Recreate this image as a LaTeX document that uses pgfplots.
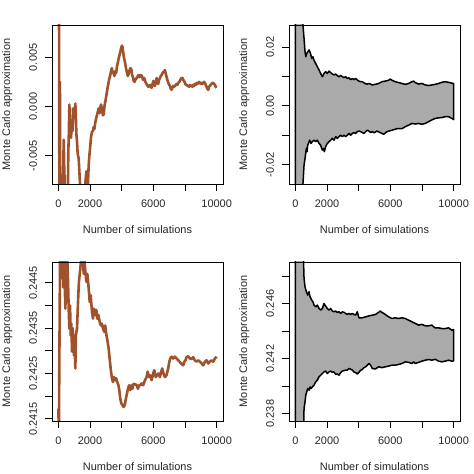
\documentclass[border=0pt]{standalone}
\usepackage{fontspec}
\setmainfont{Liberation Sans}
\usepackage{pgfplots}
\pgfplotsset{compat=1.18}
\definecolor{mcbrown}{RGB}{160,82,45}
\definecolor{mcgray}{RGB}{170,170,170}
\pgfplotsset{
  mcstyle/.style={
    scale only axis, width=171bp, height=159bp,
    xmin=-400, xmax=10400,
    xtick={0,2000,4000,6000,8000,10000},
    xticklabels={0,2000,{},6000,{},10000},
    scaled ticks=false,
    tick align=outside, tick pos=left,
    major tick length=7bp,
    every tick/.style={black, line width=0.8bp},
    axis line style={line width=0.8bp, black},
    axis on top,
    tick label style={font=\fontsize{11}{13}\selectfont, text=black!85},
    xticklabel style={anchor=north},
    yticklabel style={rotate=90, anchor=south},
    xticklabel shift=5bp,
    yticklabel shift=4.5bp,
    xlabel={Number of simulations},
    ylabel={Monte Carlo approximation},
    label style={font=\fontsize{11}{13}\selectfont, text=black!85},
    xlabel style={at={(axis description cs:0.5,-0.2893)}, anchor=center},
    ylabel style={at={(axis description cs:-0.2614,0.5)}, anchor=center},
  },
  mcline/.style={mcbrown, line width=2.6bp, line join=round},
  mcband/.style={fill=mcgray, draw=black, line width=1.5bp, line join=round},
}
\begin{document}
\begin{tikzpicture}
\useasboundingbox (0,0) rectangle (474bp,474bp);
% Panel 1
\begin{axis}[mcstyle, at={(52bp,290bp)}, anchor=south west,
  ymin=-0.0079, ymax=0.0083,
  ytick={-0.005,0,0.005}, yticklabels={-0.005,0.000,0.005}]
\addplot[mcline] coordinates {
(1,0.0500)(40,0.0120)(70,-0.0120)(100,0.0025)(125,-0.0110)(170,-0.0090)(220,-0.0070)(260,-0.0085)(300,-0.0075)(340,-0.0034)(370,-0.0060)(420,-0.0090)(450,-0.0110)(520,-0.0100)(600,-0.0090)(630,-0.0046)(660,-0.0030)(697,0.0002)(720,-0.0010)(760,-0.0019)(800,-0.0032)(830,-0.0024)(860,-0.0016)(900,-0.0025)(930,-0.0002)(980,-0.0012)(1030,-0.0008)(1075,0.0003)(1110,-0.0012)(1140,-0.0028)(1180,-0.0036)(1220,-0.0048)(1285,-0.0053)(1340,-0.0070)(1390,-0.0085)(1450,-0.0100)(1550,-0.0110)(1650,-0.0095)(1720,-0.0075)(1769,-0.0066)(1800,-0.0085)(1850,-0.0095)(1880,-0.0075)(1916,-0.0060)(1950,-0.0052)(1990,-0.0045)(2020,-0.0040)(2060,-0.0032)(2100,-0.0028)(2127,-0.0026)(2180,-0.0025)(2230,-0.0021)(2280,-0.0023)(2337,-0.0016)(2390,-0.0012)(2440,-0.0009)(2500,-0.0005)(2547,-0.0002)(2600,-0.0007)(2650,-0.0001)(2700,0.0002)(2760,-0.0004)(2820,-0.0009)(2863,-0.0008)(2920,0.0001)(2970,0.0005)(3020,0.0010)(3073,0.0015)(3120,0.0020)(3180,0.0025)(3230,0.0029)(3283,0.0032)(3330,0.0036)(3380,0.0039)(3430,0.0035)(3490,0.0034)(3540,0.0031)(3600,0.0036)(3650,0.0034)(3704,0.0041)(3760,0.0045)(3810,0.0049)(3870,0.0053)(3920,0.0056)(3970,0.0060)(4019,0.0062)(4060,0.0060)(4100,0.0055)(4140,0.0050)(4200,0.0046)(4272,0.0039)(4330,0.0035)(4390,0.0031)(4440,0.0033)(4500,0.0037)(4550,0.0039)(4608,0.0038)(4660,0.0032)(4710,0.0030)(4760,0.0026)(4820,0.0025)(4880,0.0028)(4966,0.0029)(5020,0.0031)(5070,0.0032)(5130,0.0030)(5200,0.0032)(5281,0.0031)(5330,0.0028)(5366,0.0027)(5420,0.0029)(5480,0.0026)(5530,0.0024)(5600,0.0022)(5640,0.0021)(5681,0.0020)(5740,0.0021)(5790,0.0022)(5840,0.0020)(5892,0.0019)(5950,0.0023)(6000,0.0026)(6050,0.0022)(6100,0.0021)(6150,0.0025)(6207,0.0029)(6260,0.0024)(6310,0.0023)(6360,0.0027)(6420,0.0029)(6470,0.0031)(6522,0.0032)(6580,0.0034)(6640,0.0035)(6690,0.0036)(6733,0.0037)(6790,0.0033)(6840,0.0030)(6900,0.0026)(6950,0.0024)(7000,0.0022)(7048,0.0021)(7100,0.0018)(7153,0.0017)(7200,0.0019)(7260,0.0021)(7310,0.0020)(7370,0.0021)(7420,0.0022)(7470,0.0023)(7520,0.0022)(7574,0.0024)(7630,0.0025)(7680,0.0026)(7730,0.0028)(7784,0.0029)(7840,0.0029)(7890,0.0027)(7940,0.0026)(8000,0.0024)(8050,0.0022)(8100,0.0022)(8150,0.0021)(8205,0.0021)(8260,0.0020)(8310,0.0022)(8360,0.0021)(8420,0.0021)(8470,0.0020)(8520,0.0022)(8580,0.0021)(8630,0.0023)(8680,0.0022)(8730,0.0024)(8790,0.0023)(8840,0.0024)(8890,0.0025)(8941,0.0024)(9000,0.0023)(9050,0.0024)(9100,0.0023)(9150,0.0024)(9200,0.0025)(9260,0.0024)(9310,0.0022)(9360,0.0020)(9410,0.0018)(9467,0.0017)(9520,0.0020)(9570,0.0021)(9620,0.0022)(9680,0.0023)(9730,0.0024)(9782,0.0024)(9840,0.0023)(9890,0.0022)(9940,0.0020)(10000,0.0019)
};
\end{axis}
% Panel 2
\begin{axis}[mcstyle, at={(289bp,290bp)}, anchor=south west,
  ymin=-0.0266, ymax=0.0275,
  ytick={-0.02,-0.01,0,0.01,0.02}, yticklabels={-0.02,{},0.00,{},0.02}]
\addplot[mcband] coordinates {
(1,0.60)(50,0.15)(100,0.09)(200,0.06)(300,0.045)(444,0.030)(550,0.0229)(612,0.0184)(660,0.0167)(720,0.0178)(865,0.0190)(950,0.0180)(1033,0.0161)(1110,0.0167)(1180,0.0155)(1285,0.0144)(1390,0.0133)(1496,0.0122)(1600,0.0110)(1706,0.0099)(1811,0.0110)(1916,0.0116)(2020,0.0110)(2127,0.0118)(2230,0.0113)(2337,0.0108)(2442,0.0105)(2547,0.0108)(2650,0.0103)(2757,0.0099)(2860,0.0103)(2970,0.0099)(3070,0.0096)(3178,0.0099)(3280,0.0093)(3388,0.0095)(3494,0.0089)(3600,0.0093)(3700,0.0089)(3809,0.0093)(3914,0.0088)(4019,0.0084)(4125,0.0082)(4230,0.0082)(4335,0.0078)(4440,0.0075)(4545,0.0074)(4650,0.0076)(4750,0.0074)(4840,0.0071)(5050,0.0073)(5261,0.0076)(5471,0.0082)(5681,0.0084)(5892,0.0087)(5997,0.0091)(6102,0.0087)(6312,0.0082)(6522,0.0079)(6733,0.0076)(6943,0.0073)(7153,0.0076)(7364,0.0082)(7469,0.0084)(7574,0.0079)(7784,0.0074)(7995,0.0076)(8205,0.0071)(8415,0.0069)(8626,0.0071)(8836,0.0073)(9046,0.0076)(9256,0.0080)(9467,0.0082)(9677,0.0080)(9887,0.0077)(10000,0.0076)
(10000,-0.0047)(9887,-0.0043)(9677,-0.0037)(9467,-0.0037)(9256,-0.0040)(9046,-0.0041)(8836,-0.0043)(8626,-0.0048)(8415,-0.0054)(8205,-0.0060)(7995,-0.0063)(7784,-0.0060)(7574,-0.0062)(7364,-0.0060)(7153,-0.0066)(6943,-0.0071)(6733,-0.0078)(6417,-0.0078)(6102,-0.0083)(5786,-0.0088)(5576,-0.0097)(5471,-0.0094)(5155,-0.0086)(4970,-0.0092)(4860,-0.0088)(4750,-0.0091)(4650,-0.0086)(4545,-0.0083)(4440,-0.0088)(4335,-0.0094)(4230,-0.0091)(4125,-0.0088)(4019,-0.0086)(3914,-0.0088)(3809,-0.0094)(3700,-0.0091)(3600,-0.0094)(3494,-0.0100)(3388,-0.0094)(3283,-0.0100)(3178,-0.0105)(3073,-0.0100)(2970,-0.0105)(2863,-0.0100)(2757,-0.0105)(2650,-0.0111)(2547,-0.0105)(2442,-0.0117)(2337,-0.0111)(2230,-0.0117)(2127,-0.0122)(2020,-0.0128)(1916,-0.0139)(1832,-0.0156)(1770,-0.0145)(1706,-0.0151)(1600,-0.0134)(1496,-0.0128)(1390,-0.0117)(1285,-0.0122)(1180,-0.0117)(1075,-0.0122)(990,-0.0128)(907,-0.0117)(781,-0.0134)(740,-0.0156)(697,-0.0145)(612,-0.0179)(550,-0.0202)(444,-0.030)(300,-0.045)(200,-0.06)(100,-0.09)(50,-0.15)(1,-0.60)
} -- cycle;
\end{axis}
% Panel 3
\begin{axis}[mcstyle, at={(52bp,53bp)}, anchor=south west,
  ymin=0.24145, ymax=0.24496,
  ytick={0.2415,0.2420,0.2425,0.2430,0.2435,0.2440,0.2445},
  yticklabels={0.2415,{},0.2425,{},0.2435,{},0.2445}]
\addplot[mcline] coordinates {
(1,0.24172)(35,0.24120)(110,0.24520)(150,0.24470)(190,0.24520)(230,0.24460)(270,0.24500)(310,0.24440)(350,0.24520)(400,0.24452)(444,0.24393)(480,0.24450)(520,0.24520)(560,0.24510)(600,0.24470)(654,0.24393)(697,0.24349)(740,0.24400)(780,0.24334)(820,0.24360)(865,0.24298)(900,0.24350)(950,0.24320)(990,0.24290)(1030,0.24310)(1075,0.24261)(1110,0.24335)(1180,0.24349)(1243,0.24408)(1300,0.24452)(1390,0.24482)(1450,0.24510)(1538,0.24520)(1600,0.24470)(1650,0.24500)(1706,0.24475)(1770,0.24452)(1830,0.24470)(1916,0.24438)(1980,0.24408)(2040,0.24423)(2127,0.24386)(2190,0.24371)(2250,0.24393)(2337,0.24379)(2400,0.24390)(2460,0.24371)(2530,0.24379)(2610,0.24364)(2680,0.24356)(2750,0.24360)(2820,0.24349)(2900,0.24342)(2960,0.24356)(3020,0.24338)(3094,0.24324)(3178,0.24305)(3240,0.24283)(3304,0.24261)(3388,0.24239)(3450,0.24231)(3520,0.24242)(3599,0.24235)(3660,0.24239)(3720,0.24231)(3790,0.24225)(3851,0.24213)(3910,0.24195)(3977,0.24184)(4050,0.24180)(4125,0.24176)(4190,0.24180)(4272,0.24195)(4330,0.24205)(4398,0.24216)(4470,0.24224)(4540,0.24213)(4608,0.24224)(4680,0.24216)(4750,0.24227)(4861,0.24226)(4950,0.24224)(5030,0.24216)(5100,0.24224)(5176,0.24224)(5261,0.24228)(5360,0.24224)(5470,0.24235)(5576,0.24242)(5640,0.24254)(5720,0.24242)(5800,0.24246)(5892,0.24235)(5990,0.24250)(6060,0.24257)(6150,0.24242)(6230,0.24246)(6320,0.24250)(6417,0.24242)(6500,0.24254)(6560,0.24261)(6640,0.24250)(6733,0.24242)(6830,0.24246)(6940,0.24261)(7010,0.24276)(7069,0.24283)(7150,0.24287)(7260,0.24283)(7360,0.24287)(7470,0.24283)(7574,0.24279)(7680,0.24275)(7780,0.24271)(7889,0.24268)(7960,0.24276)(8030,0.24279)(8100,0.24286)(8200,0.24288)(8310,0.24283)(8420,0.24282)(8520,0.24286)(8620,0.24279)(8731,0.24276)(8840,0.24279)(8940,0.24276)(9050,0.24272)(9151,0.24268)(9260,0.24276)(9360,0.24279)(9470,0.24272)(9570,0.24276)(9680,0.24279)(9780,0.24276)(9890,0.24283)(10000,0.24287)
};
\end{axis}
% Panel 4
\begin{axis}[mcstyle, at={(289bp,53bp)}, anchor=south west,
  ymin=0.23747, ymax=0.24902,
  ytick={0.238,0.240,0.242,0.244,0.246,0.248},
  yticklabels={0.238,{},0.242,{},0.246,{}}]
\addplot[mcband] coordinates {
(1,0.80)(50,0.30)(100,0.28)(200,0.265)(300,0.258)(444,0.2520)(550,0.24782)(612,0.24721)(697,0.24685)(781,0.24661)(865,0.24685)(928,0.24649)(1033,0.24625)(1110,0.24612)(1180,0.24588)(1285,0.24576)(1390,0.24588)(1496,0.24564)(1600,0.24552)(1706,0.24564)(1811,0.24600)(1870,0.24588)(1950,0.24576)(2020,0.24564)(2127,0.24552)(2230,0.24564)(2337,0.24545)(2440,0.24540)(2547,0.24545)(2650,0.24535)(2757,0.24540)(2863,0.24528)(2970,0.24540)(3073,0.24535)(3178,0.24528)(3283,0.24520)(3388,0.24528)(3494,0.24520)(3600,0.24528)(3700,0.24520)(3809,0.24516)(3870,0.24530)(3914,0.24540)(3970,0.24515)(4019,0.24496)(4230,0.24496)(4440,0.24503)(4650,0.24510)(4860,0.24515)(5070,0.24520)(5176,0.24530)(5261,0.24535)(5366,0.24545)(5470,0.24535)(5576,0.24528)(5681,0.24520)(5892,0.24503)(6102,0.24491)(6312,0.24496)(6522,0.24491)(6733,0.24496)(6943,0.24491)(7153,0.24479)(7364,0.24467)(7574,0.24455)(7784,0.24443)(7995,0.24448)(8205,0.24438)(8415,0.24438)(8626,0.24443)(8731,0.24431)(8836,0.24423)(9046,0.24423)(9256,0.24418)(9467,0.24418)(9677,0.24423)(9887,0.24406)(10000,0.24411)
(10000,0.24183)(9887,0.24181)(9677,0.24188)(9467,0.24181)(9256,0.24176)(9046,0.24181)(8836,0.24195)(8626,0.24188)(8415,0.24193)(8205,0.24188)(7995,0.24181)(7784,0.24172)(7574,0.24164)(7469,0.24176)(7364,0.24164)(7153,0.24172)(6943,0.24176)(6733,0.24164)(6522,0.24157)(6312,0.24152)(6102,0.24152)(5892,0.24145)(5681,0.24140)(5471,0.24134)(5261,0.24140)(5050,0.24124)(4860,0.24128)(4750,0.24152)(4650,0.24164)(4545,0.24152)(4440,0.24140)(4335,0.24134)(4230,0.24121)(4125,0.24115)(4019,0.24100)(3914,0.24088)(3809,0.24097)(3700,0.24103)(3600,0.24116)(3494,0.24122)(3388,0.24128)(3283,0.24116)(3178,0.24116)(3073,0.24112)(2970,0.24109)(2863,0.24097)(2757,0.24079)(2650,0.24088)(2547,0.24085)(2440,0.24103)(2337,0.24100)(2230,0.24109)(2127,0.24103)(2020,0.24091)(1916,0.24109)(1811,0.24103)(1706,0.24091)(1600,0.24079)(1496,0.24067)(1390,0.24043)(1285,0.24030)(1180,0.24006)(1075,0.23994)(990,0.23982)(928,0.23994)(865,0.23970)(781,0.23982)(720,0.23958)(660,0.23934)(612,0.23885)(550,0.23837)(444,0.2330)(300,0.222)(200,0.215)(100,0.20)(50,0.19)(1,-0.30)
} -- cycle;
\end{axis}
\end{tikzpicture}
\end{document}
